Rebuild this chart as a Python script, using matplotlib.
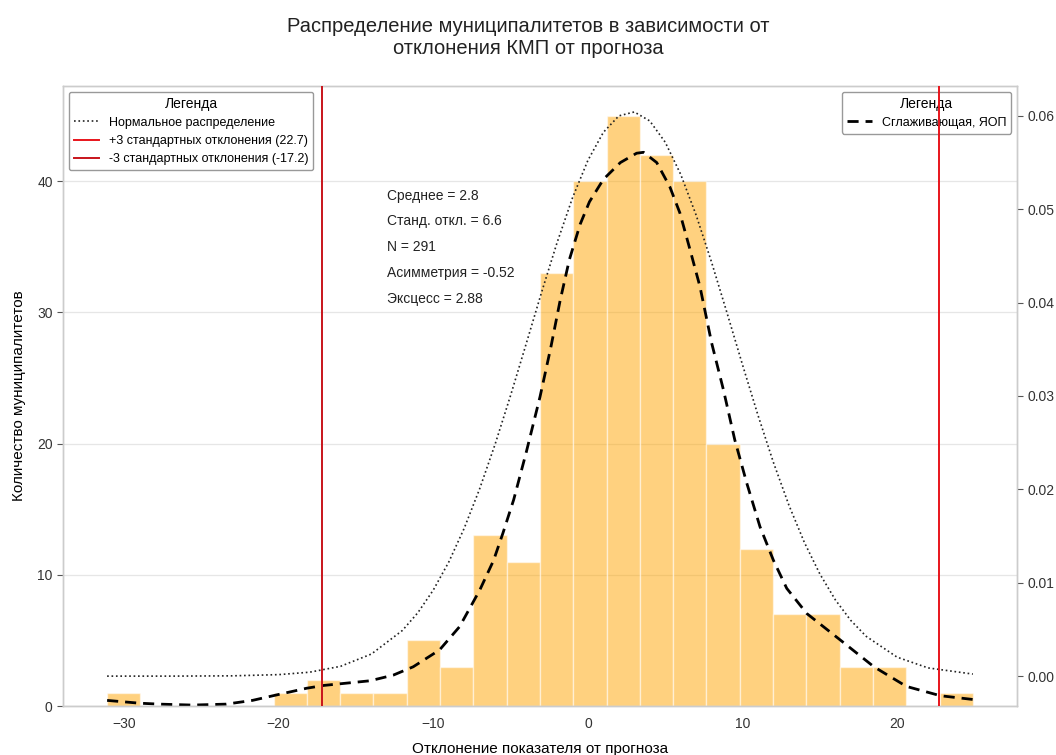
import numpy as np
import matplotlib
matplotlib.use("Agg")
import matplotlib.pyplot as plt
from matplotlib.ticker import FormatStrFormatter

plt.rcParams['font.family'] = ['Liberation Sans', 'DejaVu Sans']

# гистограмма отклонений (26 интервалов)
x_min, x_max = -31.1, 24.9
counts = [1, 0, 0, 0, 0, 1, 2, 1, 1, 5, 3, 13, 11, 33,
          40, 45, 42, 40, 20, 12, 7, 7, 3, 3, 0, 1]

# нормальная плотность (среднее 2.8, ст. откл. 6.6)
norm_x = [-31.1, -27, -23, -20, -18, -16, -14, -12, -11, -10, -9, -8, -7, -6,
          -5, -4, -3, -2, -1, 0, 1, 2, 3, 4, 5, 6, 7, 8, 9, 10, 11, 12, 13,
          14, 15, 16, 17, 18, 20, 22, 24.9]
norm_y = [0.0, 0.0, 0.00003, 0.00016, 0.00042, 0.00105, 0.00237, 0.00489,
          0.00679, 0.00922, 0.01222, 0.01584, 0.02007, 0.02485, 0.03007,
          0.03555, 0.04109, 0.04640, 0.05121, 0.05524, 0.05824, 0.06000,
          0.06042, 0.05946, 0.05718, 0.05374, 0.04937, 0.04432, 0.03889,
          0.03334, 0.02794, 0.02288, 0.01831, 0.01432, 0.01095, 0.00818,
          0.00597, 0.00426, 0.00203, 0.00088, 0.00022]

# сглаживающая кривая (ЯОП)
kde_x = [-31.1, -29.0, -27.7, -25.6, -23.4, -21.7, -20.1, -18.2, -17.1, -15.9,
         -14.1, -12.6, -11.3, -9.6, -8.3, -7.0, -6.1, -5.5, -4.8, -4.0, -3.1,
         -2.4, -1.8, -1.2, -0.5, 0.1, 1.0, 2.1, 3.15, 3.6, 4.45, 5.3, 5.95,
         6.6, 7.25, 8.0, 8.76, 9.5, 10.27, 11.13, 12.0, 12.86, 14.16, 16.3,
         18.5, 20.6, 22.8, 24.9]
kde_y = [-0.0026, -0.0029, -0.0030, -0.0031, -0.0030, -0.0026, -0.0020,
         -0.0013, -0.0010, -0.0008, -0.0005, 0.0001, 0.0010, 0.0028, 0.0053,
         0.0092, 0.0124, 0.0153, 0.0189, 0.0239, 0.0299, 0.0352, 0.0402,
         0.0446, 0.0484, 0.0508, 0.0532, 0.0550, 0.0560, 0.0561, 0.0550,
         0.0524, 0.0496, 0.0457, 0.0417, 0.0357, 0.0307, 0.0253, 0.0207,
         0.0160, 0.0124, 0.0094, 0.0067, 0.0039, 0.0010, -0.0011, -0.0021,
         -0.0025]

mean, std, n, skew, kurt = 2.8, 6.6, 291, -0.52, 2.88
upper, lower = 22.7, -17.2

edges = np.linspace(x_min, x_max, len(counts) + 1)
width = edges[1] - edges[0]

fig = plt.figure(figsize=(10.56, 7.55), dpi=100)
ax = fig.add_axes([0.0597, 0.0649, 0.9033, 0.8212])

ax.bar(edges[:-1], counts, width=width, align='edge', color='orange',
       alpha=0.5, edgecolor='white', linewidth=1.0, zorder=2)
ax.set_xlim(-33.95, 27.75)
ax.set_ylim(0, 47.25)
ax.grid(axis='y', color='#e6e6e6', linewidth=0.9, zorder=0)
ax.set_axisbelow(True)
ax.set_xlabel('Отклонение показателя от прогноза', fontsize=11, labelpad=8)
ax.set_ylabel('Количество муниципалитетов', fontsize=11, labelpad=8)
ax.tick_params(axis='x', length=0, labelsize=10, colors='#333333', pad=8)
ax.tick_params(axis='y', length=4, labelsize=10, colors='#333333',
               color='#555555')

ax2 = ax.twinx()
l_norm, = ax2.plot(norm_x, norm_y, color='#222222', linestyle=':',
                   linewidth=1.2, label='Нормальное распределение')
l_kde, = ax2.plot(kde_x, kde_y, color='black', linestyle='--',
                  linewidth=2.0, dashes=(4, 2.5),
                  label='Сглаживающая, ЯОП')
l_up = ax2.axvline(upper, color='#e8141b', linewidth=1.4, zorder=6,
                   label='+3 стандартных отклонения (%.1f)' % upper)
l_lo = ax2.axvline(lower, color='#c8141b', linewidth=1.4, zorder=6,
                   label='-3 стандартных отклонения (%.1f)' % lower)
ax2.set_ylim(-0.0032, 0.0632)
ax2.yaxis.set_major_formatter(FormatStrFormatter('%.2f'))
ax2.tick_params(axis='y', length=4, labelsize=10, colors='#333333',
                color='#555555')

for a in (ax, ax2):
    for s in a.spines.values():
        s.set_color('#cccccc')
        s.set_linewidth(1.0)

leg1 = ax2.legend(handles=[l_norm, l_up, l_lo], loc='upper left',
                  title='Легенда', fontsize=9, title_fontsize=10,
                  framealpha=1, edgecolor='#999999', fancybox=True,
                  borderaxespad=0.45)
ax2.add_artist(leg1)
ax2.legend(handles=[l_kde], loc='upper right', title='Легенда', fontsize=9,
           title_fontsize=10, framealpha=1, edgecolor='#999999',
           borderaxespad=0.45)

stats = ['Среднее = %.1f' % mean, 'Станд. откл. = %.1f' % std,
         'N = %d' % n, 'Асимметрия = %.2f' % skew, 'Эксцесс = %.2f' % kurt]
for i, s in enumerate(stats):
    ax.text(0.34, 0.823 - i * 0.0415, s, transform=ax.transAxes,
            fontsize=10, va='center', color='#222222')

fig.suptitle('Распределение муниципалитетов в зависимости от\n'
             'отклонения КМП от прогноза', fontsize=14.5, y=0.978,
             color='#222222')

fig.savefig('out.png', dpi=100)
